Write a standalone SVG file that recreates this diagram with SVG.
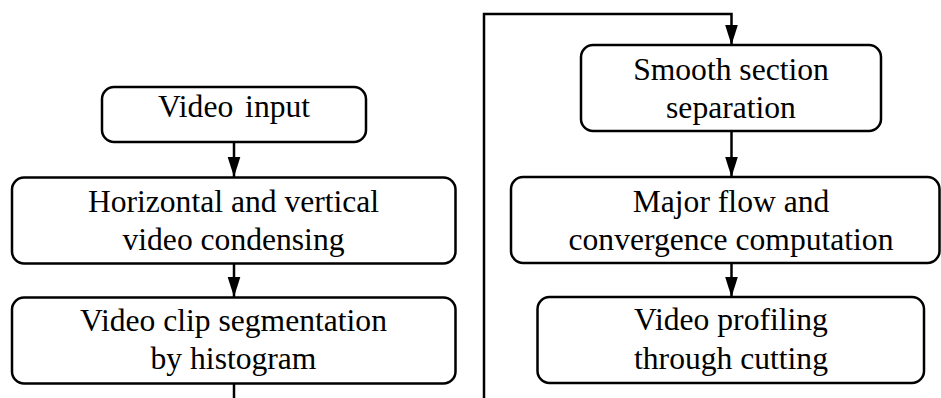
<svg xmlns="http://www.w3.org/2000/svg" width="941" height="398" viewBox="0 0 941 398">
<defs>
<style>
.box{fill:#fff;stroke:#000;stroke-width:2.5}
.t{font-family:"Liberation Serif","Times New Roman",serif;font-size:31.6px;fill:#000;text-anchor:middle}
.c{fill:none;stroke:#000;stroke-width:2.5}
</style>
<marker id="arr" markerUnits="userSpaceOnUse" markerWidth="20" markerHeight="14" refX="19" refY="6" orient="auto" viewBox="0 0 19 12">
<path d="M0,0 L19,6 L0,12 Z" fill="#000"/>
</marker>
</defs>
<g id="connectors">
<line class="c" x1="234" y1="142" x2="234" y2="177" marker-end="url(#arr)"/>
<line class="c" x1="234" y1="263" x2="234" y2="297" marker-end="url(#arr)"/>
<line class="c" x1="234" y1="383" x2="234" y2="398"/>
<polyline class="c" points="484,398 484,14 731.5,14 731.5,45" marker-end="url(#arr)"/>
<line class="c" x1="731.5" y1="131" x2="731.5" y2="177" marker-end="url(#arr)"/>
<line class="c" x1="731.5" y1="263" x2="731.5" y2="297" marker-end="url(#arr)"/>
</g>
<g id="video-input">
<rect class="box" x="102" y="87" width="264" height="55" rx="12"/>
<text class="t" x="234" y="116.5" word-spacing="4">Video input</text>
</g>
<g id="condensing">
<rect class="box" x="12" y="177.5" width="443.5" height="86" rx="12"/>
<text class="t" x="233.5" y="211.5">Horizontal and vertical</text>
<text class="t" x="233.5" y="249.5">video condensing</text>
</g>
<g id="segmentation">
<rect class="box" x="12" y="297.5" width="443.5" height="86" rx="12"/>
<text class="t" x="233.5" y="330.5">Video clip segmentation</text>
<text class="t" x="233.5" y="368.5">by histogram</text>
</g>
<g id="smooth-section">
<rect class="box" x="581" y="45" width="300" height="86" rx="12"/>
<text class="t" x="731" y="80">Smooth section</text>
<text class="t" x="731" y="118">separation</text>
</g>
<g id="major-flow">
<rect class="box" x="511" y="177" width="428.5" height="86" rx="12"/>
<text class="t" x="731" y="211.5">Major flow and</text>
<text class="t" x="731" y="250">convergence computation</text>
</g>
<g id="profiling">
<rect class="box" x="537.5" y="297" width="386.5" height="86" rx="12"/>
<text class="t" x="731" y="330">Video profiling</text>
<text class="t" x="731" y="368.5">through cutting</text>
</g>
</svg>
